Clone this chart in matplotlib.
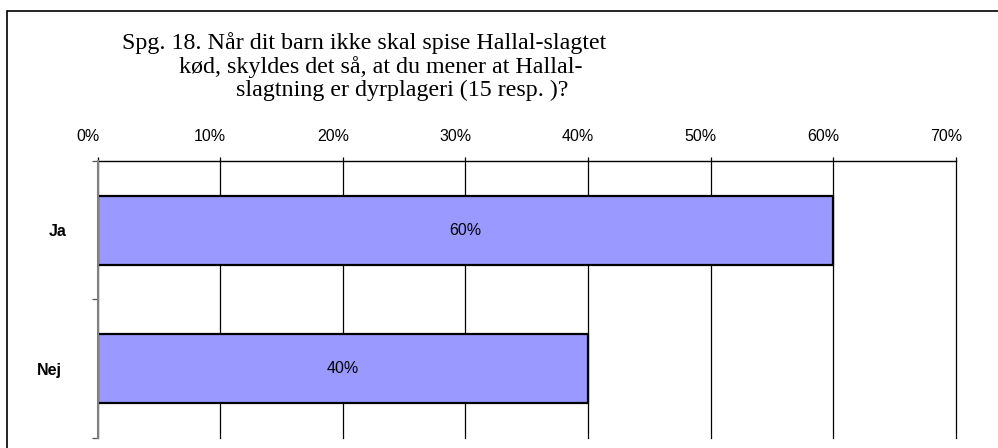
import matplotlib
matplotlib.use("Agg")
import matplotlib.pyplot as plt
from matplotlib.patches import Rectangle
from matplotlib.ticker import FixedLocator, FuncFormatter
from matplotlib.transforms import ScaledTranslation

categories = ["Ja", "Nej"]
values = [60, 40]
xticks = [0, 10, 20, 30, 40, 50, 60, 70]
title_lines = [
    "Spg. 18. Når dit barn ikke skal spise Hallal-slagtet",
    "kød, skyldes det så, at du mener at Hallal-",
    "slagtning er dyrplageri (15 resp. )?",
]

W, H = 998, 448
fig = plt.figure(figsize=(W / 100, H / 100), dpi=100)
fig.patch.set_facecolor("white")

def fx(px):
    return px / W

def fy(py):
    return 1 - py / H

ax = fig.add_axes([fx(97.7), fy(438), fx(955.7) - fx(97.7), fy(161) - fy(438)])

pos = list(range(len(categories)))
ax.barh(pos, values, height=0.5, color="#9999FF", edgecolor="black", linewidth=1.6, zorder=3)
for p, v in zip(pos, values):
    ax.text(v / 2, p, f"{v}%", ha="center", va="center", fontsize=11.5, fontfamily="Liberation Sans", zorder=4)

ax.set_xlim(0, 70)
ax.set_ylim(len(categories) - 0.5, -0.5)

ax.xaxis.tick_top()
ax.set_xticks(xticks)
ax.xaxis.set_major_formatter(FuncFormatter(lambda x, _: f"{int(x)}%"))
ax.tick_params(axis="x", direction="out", length=3, width=0.9, color="black", pad=9, labelsize=11.5)
ax.grid(axis="x", color="black", linewidth=0.9, zorder=1)

# y axis: major ticks at category boundaries, labels at centers (minor)
ax.yaxis.set_major_locator(FixedLocator([-0.5 + i for i in range(len(categories) + 1)]))
ax.yaxis.set_major_formatter(FuncFormatter(lambda y, _: ""))
ax.yaxis.set_minor_locator(FixedLocator(pos))
ax.set_yticklabels(categories, minor=True)
ax.tick_params(axis="y", which="major", direction="out", length=4.5, width=0.9, color="#555555")
ax.tick_params(axis="y", which="minor", length=0, pad=32, labelsize=11.5)

for s in ["right", "bottom"]:
    ax.spines[s].set_visible(False)
ax.spines["top"].set_color("black")
ax.spines["top"].set_linewidth(1.0)
ax.spines["left"].set_color("#808080")
ax.spines["left"].set_linewidth(1.5)
ax.spines["left"].set_zorder(5)

fig.canvas.draw()
for gl in ax.get_xgridlines():
    gl.set_clip_on(False)
for lab in ax.get_xticklabels():
    lab.set_fontfamily("Liberation Sans")
    lab.set_transform(lab.get_transform() + ScaledTranslation(-10 / 100, 0, fig.dpi_scale_trans))
y_shift = [4, -4]
for lab, dx in zip(ax.get_yticklabels(minor=True), y_shift):
    lab.set_fontfamily("Liberation Sans")
    lab.set_fontweight("bold")
    lab.set_ha("center")
    lab.set_transform(lab.get_transform() + ScaledTranslation(dx / 100, 0, fig.dpi_scale_trans))

# title lines
title_x = [122, 179, 236]
title_y = [48.5, 73, 96]
for t, x, y in zip(title_lines, title_x, title_y):
    fig.text(fx(x), fy(y), t, ha="left", va="baseline", fontsize=17.3, fontfamily="Liberation Serif")

# chart border
fig.patches.append(Rectangle((fx(6.5), -0.2), 1.2, fy(11) + 0.2, transform=fig.transFigure,
                             fill=False, edgecolor="black", linewidth=1.2, clip_on=False))

fig.savefig("out.png", dpi=100)
